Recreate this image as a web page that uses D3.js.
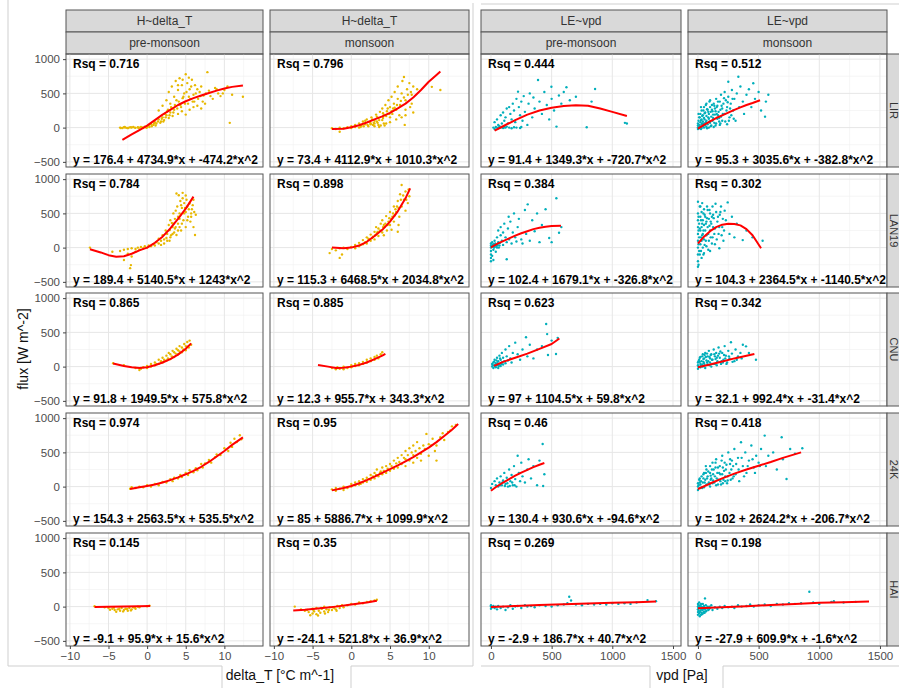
<!DOCTYPE html>
<html>
<head>
<meta charset="utf-8">
<script src="https://cdn.jsdelivr.net/npm/d3@7"></script>
<style>
  body { margin: 0; background: #fff; }
  svg { display: block; font-family: "Liberation Sans", Arial, sans-serif; }
</style>
</head>
<body>
<div id="chart"></div>
<script>
// facet labels
const sites = ["LIR", "LAN19", "CNU", "24K", "HAI"];
const seasons = ["pre-monsoon", "monsoon"];
const models = ["H~delta_T", "LE~vpd"];

// tick values
const yTicks = [-500, 0, 500, 1000];
const yMinor = [-250, 250, 750];
const xTicksH = [-10, -5, 0, 5, 10];
const xMinorH = [-7.5, -2.5, 2.5, 7.5, 12.5];
const xTicksLE = [0, 500, 1000, 1500];
const xMinorLE = [250, 750, 1250];

// R squared per site
const hPreRsq = [0.716, 0.784, 0.865, 0.974, 0.145];
const hMonRsq = [0.796, 0.898, 0.885, 0.95, 0.35];
const lePreRsq = [0.444, 0.384, 0.623, 0.46, 0.269];
const leMonRsq = [0.512, 0.302, 0.342, 0.418, 0.198];

// fitted equations per site
const hPreEq = ["y = 176.4 + 4734.9*x + -474.2*x^2", "y = 189.4 + 5140.5*x + 1243*x^2", "y = 91.8 + 1949.5*x + 575.8*x^2", "y = 154.3 + 2563.5*x + 535.5*x^2", "y = -9.1 + 95.9*x + 15.6*x^2"];
const hMonEq = ["y = 73.4 + 4112.9*x + 1010.3*x^2", "y = 115.3 + 6468.5*x + 2034.8*x^2", "y = 12.3 + 955.7*x + 343.3*x^2", "y = 85 + 5886.7*x + 1099.9*x^2", "y = -24.1 + 521.8*x + 36.9*x^2"];
const lePreEq = ["y = 91.4 + 1349.3*x + -720.7*x^2", "y = 102.4 + 1679.1*x + -326.8*x^2", "y = 97 + 1104.5*x + 59.8*x^2", "y = 130.4 + 930.6*x + -94.6*x^2", "y = -2.9 + 186.7*x + 40.7*x^2"];
const leMonEq = ["y = 95.3 + 3035.6*x + -382.8*x^2", "y = 104.3 + 2364.5*x + -1140.5*x^2", "y = 32.1 + 992.4*x + -31.4*x^2", "y = 102 + 2624.2*x + -206.7*x^2", "y = -27.9 + 609.9*x + -1.6*x^2"];

// H ~ delta_T, pre-monsoon: observed points [delta_T, flux] per site
const hPrePts = [
  [[-3.5,0],[-3.2,-5],[-3,5],[-2.8,0],[-2.5,-8],[-2.3,3],[-2,0],[-1.8,8],[-1.5,-3],[-1.2,5],[-1,0],[-0.8,10],[-0.5,-5],[-0.3,15],[0,5],
   [0.2,30],[0.5,50],[0.8,40],[1,80],[1.2,60],[1.5,120],[1.8,90],[2,150],[2.2,110],[2.5,180],[2.8,140],[3,220],[3.3,170],[3.5,260],[4,200],[4.5,240],[5,190],[5.5,260],[6,300],[6.5,320],[7,280],[7.5,350],
   [1.5,250],[2,320],[2.5,400],[2.8,520],[3,350],[3.2,600],[3.5,450],[3.7,680],[4,550],[4.2,720],[4.5,620],[4.8,500],[5,780],[5.2,650],[5.5,560],[5.8,700],[6,480],[6.2,620],[6.5,560],[6.8,520],[7,600],[7.3,470],[7.8,810],[8,540],[8.5,420],[8.8,580],[9.2,500],[9.5,460],[10,550],[10.4,600],[10.7,70],[11,480],[12.4,450],
   [3.8,400],[4.3,330],[4.6,430],[5.3,350],[5.6,420],[6.1,380],[3.2,280],[2.6,240],[4,620],[4.6,700],[5.4,730],
   [0.3,10],[0.6,20],[0.9,60],[1.1,30],[1.4,90],[1.7,70],[1.9,130],[2.1,90],[2.3,200],[2.4,150],[2.7,260],[2.9,180],[3.1,300],[3.4,220],[3.6,330],[3.9,280],[4.1,380],[4.4,300],[4.7,450],[4.9,350],[5.1,520],[5.4,450],[5.7,600],[5.9,380],[6.3,500],[6.6,420],[6.9,460],[7.2,380],[7.6,500],[8.2,460],[9,560],[9.8,500],
   [-3.4,-5],[-2.9,8],[-2.6,-3],[-2.1,6],[-1.6,0],[-1.1,-6],[-0.6,4],[-0.1,-2]],
  [[-7.4,0],[-4.5,-60],[-3.5,-50],[-3,-30],[-3,-180],[-2.5,-20],[-2.5,-90],[-2.2,-300],[-2.1,-255],[-2,-10],[-2,-130],[-1.5,-20],[-1.5,-60],[-1.2,0],[-1,-30],[-0.8,10],[-0.5,-10],[-0.3,20],[0,0],[0.2,30],[0.5,20],[0.8,50],[1,30],[1.2,80],[1.5,60],[1.5,130],[1.8,100],[2,180],[2.2,120],[2.4,250],[2.6,200],[2.8,330],[2.9,255],[3,400],[3.1,180],[3.3,300],[3.4,500],[3.5,220],[3.6,420],[3.8,790],[3.8,185],[3.9,600],[4,350],[4.1,765],[4.2,500],[4.3,680],[4.4,250],[4.5,580],[4.6,720],[4.7,400],[4.8,650],[5,300],[5,520],[5.1,700],[5.3,450],[5.5,645],[5.6,380],[5.8,560],[6,300],[6,700],[6.2,185],[6.3,480],
   [3.2,360],[3.6,280],[4,450],[4.4,620],[4.9,580],[5.2,600],[5.7,500],[4.2,300],[2.5,140],[3.7,540],
   [3,150],[3.4,350],[3.7,300],[4,250],[4.2,420],[4.5,350],[4.8,500],[5.2,400],[5.4,560],[5.7,450],[5.9,620],[6.1,520],[4.6,800],[5,760],[3.3,200],[2.9,100],[2.6,100],[2.2,60],[1.8,40]],
  [[-4.4,50],[-3,20],[-1.5,-20],[-1,-50],[-0.8,-30],[-0.5,-10],[0,-20],[0,10],[0.5,0],[0.5,40],[1,20],[1,60],[1.5,40],[1.5,100],[2,60],[2,130],[2.5,90],[2.5,160],[2.8,200],[3,110],[3,180],[3.3,230],[3.5,140],[3.5,210],[3.8,260],[4,180],[4,240],[4.2,300],[4.5,210],[4.5,280],[4.8,330],[5,240],[5,300],[5.2,360],[5.4,280],[5.5,380],[5.7,320],
   [1.2,40],[1.8,80],[2.2,100],[2.7,120],[3.2,150],[3.7,190],[4.2,220],[4.7,250],[5.2,290]],
  [[-2.2,-30],[-2,-10],[-1.5,-20],[-1,0],[-0.5,-10],[0,20],[0.5,0],[1,40],[1.5,20],[2,70],[2.5,60],[3,110],[3.3,80],[3.5,130],[4,120],[4.3,170],[4.5,140],[5,200],[5.3,170],[5.5,240],[6,210],[6.3,270],[6.5,240],[7,330],[7.2,280],[7.5,340],[8,390],[8.3,350],[8.8,430],[9,470],[9.5,460],[10,560],[10.5,520],[10.8,640],[11,580],[11.3,700],[11.6,650],[12,750],[12.2,690]],
  [[-6.8,5],[-5.5,-10],[-5,-20],[-4.5,-30],[-4.2,-50],[-4,-75],[-3.8,-40],[-3.5,-60],[-3.3,-20],[-3,-50],[-2.8,-30],[-2.5,-60],[-2.3,-20],[-2,-40],[-1.8,-10],[-1.5,-30],[-1.2,0],[-1,-10],[0,5],[0.3,15],
   [-4.8,-45],[-4.3,-15],[-3.6,-30],[-3.1,-70],[-2.6,-35],[-2.1,-55],[-1.6,-15]]
];

// H ~ delta_T, monsoon
const hMonPts = [
  [[-2.5,-10],[-2,-20],[-1.5,-60],[-1.5,0],[-1,-10],[-0.5,5],[0,-5],[0,20],[0.5,10],[0.5,40],[1,0],[1,60],[1.3,30],[1.5,90],[1.8,50],[2,120],[2.2,20],[2.4,80],[2.6,150],[2.8,40],[3,100],[3.2,190],[3.4,70],[3.5,140],[3.7,230],[3.8,30],[4,110],[4,280],[4.2,180],[4.4,330],[4.5,60],[4.6,240],[4.8,400],[5,150],[5,300],[5.2,450],[5.3,200],[5.5,350],[5.6,520],[5.8,260],[6,420],[6,600],[6.2,180],[6.3,330],[6.5,500],[6.6,680],[6.8,740],[6.9,40],[7,400],[7,260],[7.2,560],[7.5,650],[7.6,300],[7.8,480],[8,600],[8,220],[8.5,560],[10.4,595],[11.5,550],
   [2.5,50],[3,60],[3.5,40],[4.2,60],[1.8,100],[2.7,120],[3.3,160],[4.1,210],[4.7,280],[5.4,280],
   [1.2,10],[1.6,20],[2.1,40],[2.5,60],[2.9,70],[3.3,90],[3.6,110],[4.1,140],[4.5,170],[4.9,200],[5.2,240],[5.6,290],[5.9,330],[6.4,390],[6.8,440],[7.3,480],[7.7,520],[3,20],[3.6,10],[4.3,30],[5,80],[5.8,120],[6.5,150],[7,180],[7.8,350]],
  [[-2.8,-80],[-2.5,-20],[-2,-40],[-1.5,-150],[-1.5,-10],[-1.2,-100],[-1,0],[-0.5,-20],[0,10],[0.5,-10],[0.5,40],[1,20],[1,70],[1.5,50],[1.5,110],[2,60],[2,150],[2.5,100],[2.5,190],[3,120],[3,230],[3.2,300],[3.5,170],[3.5,280],[3.8,350],[4,220],[4,400],[4.3,300],[4.5,460],[4.6,250],[4.8,380],[5,520],[5,330],[5.3,450],[5.5,600],[5.5,380],[5.8,520],[6,232],[6,680],[6.2,450],[6.3,780],[6.5,600],[6.5,915],[6.8,700],[7,540],[7,820],[7.3,650],[7.5,750],
   [2.2,130],[2.8,160],[3.3,210],[4.2,330],[4.9,430],[5.7,560],
   [1.2,40],[1.8,80],[2.3,120],[2.7,140],[3.1,180],[3.4,230],[3.7,250],[4.1,300],[4.4,350],[4.7,330],[5.1,420],[5.4,500],[5.6,470],[5.9,600],[6.1,580],[6.4,700],[6.7,760],[7.1,700],[7.4,850],[4.2,180],[5.2,260],[6.1,330]],
  [[-2.5,-20],[-2,-40],[-1.8,-10],[-1.5,-30],[-1,-40],[-1,0],[-0.5,-20],[0,-10],[0,20],[0.5,10],[0.5,40],[1,20],[1,50],[1.5,40],[1.5,70],[2,60],[2,100],[2.5,80],[2.5,120],[3,100],[3,140],[3.3,160],[3.5,120],[3.8,180],[4,210]],
  [[-2.5,-40],[-2,-60],[-2,-20],[-1.5,-30],[-1,-50],[-1,0],[-0.5,-20],[0,0],[0,40],[0.5,20],[0.5,60],[1,30],[1,80],[1.5,60],[1.5,110],[2,70],[2,130],[2.5,100],[2.5,170],[3,120],[3,200],[3.3,250],[3.5,150],[3.8,220],[4,180],[4,280],[4.5,200],[4.5,300],[5,230],[5,330],[5.5,260],[5.5,380],[6,280],[6,420],[6.5,330],[6.5,460],[7,300],[7,400],[7,520],[7.5,380],[7.5,560],[8,350],[8,460],[8,600],[8.5,420],[8.5,650],[9,480],[9,380],[9.5,550],[9.7,770],[10,450],[10,620],[10.5,700],[11,380],[11,600],[11.5,720],[12,680],[12.5,800],[13,880],[13.5,900],
   [1.2,40],[1.8,90],[2.3,110],[2.8,150],[3.2,170],[3.7,200],[4.2,230],[4.7,260],[5.2,300],[5.8,340],[6.2,360],[6.8,420],[7.3,460],[7.8,500],[8.3,520],[8.8,560],[9.3,600],[10.3,600],[10.8,520],[11.8,780],[12.8,820]],
  [[-7.3,0],[-6.5,-40],[-6,-60],[-5.5,-80],[-5.3,-125],[-5,-100],[-5,-30],[-4.8,-70],[-4.5,-110],[-4.5,-20],[-4.2,-60],[-4,-90],[-3.8,-30],[-3.5,-70],[-3.5,0],[-3.2,-40],[-3,-80],[-2.8,-10],[-2.5,-50],[-2.2,-20],[-2,-40],[-1.8,10],[-1.5,-20],[-1.2,20],[-1,-10],[-0.5,20],[0,40],[0.5,30],[1,60],[1.5,50],[2,70],[2.5,80],[3,90],[3.3,100],
   [-5.7,-50],[-4.9,-50],[-4.3,-130],[-3.9,-20],[-3.4,-100],[-2.9,-50],[-2.4,-10],[-1.9,-60]]
];

// LE ~ vpd, pre-monsoon: [vpd, flux]
const lePrePts = [
  [[20,0],[30,-20],[40,10],[50,0],[60,-10],[70,20],[80,0],[90,10],[100,-5],[110,5],[120,0],[130,15],[150,0],[170,-10],[190,5],[210,0],[240,-5],[250,10],
   [30,80],[50,120],[60,40],[80,180],[90,60],[100,220],[110,100],[120,150],[130,280],[140,60],[150,300],[160,200],[170,120],[180,350],[190,250],[200,80],[210,420],[223,525],[230,300],[240,180],[250,380],[260,100],[270,460],[280,230],[300,40],[310,350],[320,500],[340,150],[350,440],[360,280],[388,695],[400,380],[420,200],[440,520],[460,330],[480,120],[498,597],[500,420],[520,250],[540,15],[560,470],[580,350],[600,520],[622,590],[650,400],[700,450],[789,5],[829,380],[858,565],[1104,70],[1120,60]],
  [[0,-200],[0,-150],[0,-100],[0,-50],[0,0],[0,30],[0,60],[10,-120],[10,20],[10,80],[20,-30],[20,50],[20,-180],[30,10],[30,100],[40,-60],[40,40],[50,150],[50,0],[60,80],[60,250],[70,30],[80,180],[80,300],[90,100],[100,220],[100,40],[110,350],[120,150],[130,-170],[130,80],[140,280],[146,450],[150,120],[160,380],[170,60],[180,220],[190,500],[200,150],[210,90],[220,300],[230,420],[250,120],[260,60],[280,550],[290,200],[303,632],[320,100],[340,400],[360,240],[380,500],[400,80],[420,330],[450,560],[480,140],[500,80],[539,720],[561,218],[580,300],
   [5,10],[15,40],[25,0],[35,60],[45,20],[55,40],[65,0],[75,70]],
  [[10,0],[10,40],[20,-20],[20,60],[30,20],[30,100],[40,-10],[40,50],[50,130],[50,20],[60,80],[60,-20],[70,40],[70,160],[80,10],[80,100],[90,60],[90,200],[100,30],[100,130],[110,80],[120,250],[120,50],[130,150],[140,90],[150,300],[160,120],[170,60],[180,200],[200,350],[220,180],[240,100],[260,250],[289,428],[300,150],[320,320],[350,120],[380,250],[420,300],[455,622],[463,475],[470,170],[500,380],[536,184],[550,420],
   [15,20],[25,70],[35,0],[45,90],[55,50],[65,10],[75,120],[85,40]],
  [[0,-20],[10,40],[30,80],[40,20],[50,120],[60,0],[70,60],[80,150],[90,20],[100,90],[110,200],[120,40],[130,130],[140,0],[150,250],[160,80],[170,170],[180,20],[190,300],[200,110],[210,0],[220,451],[230,200],[240,80],[250,350],[260,150],[280,60],[300,250],[310,400],[330,120],[350,300],[380,20],[400,380],[426,622],[430,10],[440,180],
   [75,20],[95,60],[115,10],[135,50],[155,10],[175,60],[195,20]],
  [[0,-30],[0,0],[0,20],[10,-10],[20,10],[30,-20],[40,0],[50,-40],[60,10],[80,-20],[100,0],[120,-50],[140,-10],[160,20],[180,-30],[200,0],[220,10],[250,-20],[280,20],[300,0],[330,10],[360,-10],[400,20],[450,10],[500,0],[550,20],[600,30],[630,50],[645,145],[660,90],[700,30],[750,20],[800,40],[850,30],[900,40],[950,30],[1000,50],[1050,40],[1100,50],[1150,40],[1200,60],[1290,95],[1360,80]]
];

// LE ~ vpd, monsoon
const leMonPts = [
  [[0,-20],[0,0],[0,30],[0,60],[5,100],[10,-10],[10,40],[10,150],[20,10],[20,80],[20,200],[30,-5],[30,50],[30,120],[30,250],[40,20],[40,90],[40,180],[50,0],[50,60],[50,140],[50,300],[60,30],[60,220],[70,10],[70,100],[70,170],[70,350],[80,50],[80,260],[90,0],[90,130],[90,200],[100,70],[100,300],[100,400],[110,30],[110,160],[120,240],[120,100],[130,350],[130,10],[140,190],[140,280],[150,60],[150,420],[160,130],[160,320],[170,230],[180,40],[180,380],[190,160],[190,480],[200,280],[200,100],[210,350],[220,200],[220,520],[230,400],[240,50],[240,300],[250,670],[250,450],[260,150],[270,350],[280,550],[290,250],[300,420],[310,100],[320,500],[333,743],[340,300],[350,600],[370,380],[380,200],[400,480],[420,560],[440,300],[456,647],[470,420],[500,520],[520,250],[553,160],[560,380],[580,480],
   [15,20],[25,110],[35,170],[45,40],[55,210],[65,80],[75,270],[85,150],[95,90],[105,230],[115,330],[125,190],[135,70],[145,240],[155,300],[165,180],[175,90],[185,260],
   [5,10],[5,200],[15,150],[25,-20],[25,300],[35,60],[45,250],[55,120],[65,330],[75,-10],[85,230],[95,380],[105,20],[115,260],[125,140],[135,320],[145,30],[155,200],[165,380],[175,140],[185,60],[195,320],[205,200],[215,430],[225,90],[235,250],[245,370],[255,100],[265,280],[275,180],[285,420],[295,130]],
  [[0,-280],[0,-200],[0,-100],[0,0],[0,100],[0,200],[0,300],[0,400],[0,500],[0,670],[10,-50],[10,150],[10,350],[20,50],[20,250],[20,450],[20,600],[30,-150],[30,100],[30,300],[30,520],[40,0],[40,200],[40,400],[50,-80],[50,120],[50,330],[50,560],[60,250],[60,450],[70,20],[70,180],[70,380],[80,300],[80,550],[90,100],[90,420],[100,-50],[100,250],[100,500],[110,350],[120,150],[120,600],[130,430],[140,50],[140,280],[150,520],[160,380],[170,200],[176,-10],[180,480],[190,600],[200,300],[210,100],[220,540],[230,400],[245,660],[260,200],[280,450],[300,150],[320,350],[369,110],[400,250],[450,150],[533,100],
   [5,50],[15,280],[25,400],[35,180],[45,500],[55,40],[65,350],[75,600],[85,200],[95,320],[105,150],[115,450],[125,300],
   [5,-250],[5,250],[5,450],[15,-100],[15,600],[25,150],[25,-50],[35,350],[35,650],[45,250],[45,-100],[55,480],[65,100],[75,430],[85,-30],[95,550],[105,380],[115,60],[125,480],[135,200],[145,640],[155,120],[165,450],[175,300],[185,520],[195,180],[205,420],[215,250]],
  [[0,-30],[0,20],[0,60],[10,100],[20,-10],[20,40],[20,140],[30,80],[40,0],[40,180],[50,50],[50,120],[60,-20],[60,200],[70,90],[80,30],[80,150],[90,230],[100,60],[100,120],[110,0],[110,180],[120,100],[130,250],[140,40],[140,150],[150,200],[160,80],[170,280],[180,130],[190,40],[200,200],[210,100],[220,300],[230,160],[240,60],[250,230],[260,120],[272,355],[280,190],[300,80],[310,250],[330,150],[350,200],[370,320],[396,296],[420,200],[478,100],
   [15,70],[35,30],[45,110],[65,140],[85,80],[105,170],[125,40],[145,110],[165,160],[185,220],[205,60],[225,120],
   [5,0],[5,80],[15,130],[25,20],[35,150],[45,70],[55,20],[55,170],[75,60],[75,190],[95,20],[95,140],[115,100],[135,180],[155,20],[155,130],[175,190],[195,80],[215,170],[235,40],[255,150],[285,70],[320,100],[360,120]],
  [[0,-50],[0,0],[0,50],[10,100],[20,-20],[20,30],[30,150],[40,60],[50,-10],[50,200],[60,100],[70,30],[70,250],[80,150],[90,60],[100,0],[100,200],[100,300],[110,120],[120,50],[120,350],[130,250],[140,150],[150,20],[150,400],[160,200],[170,100],[180,300],[190,30],[200,450],[200,180],[210,100],[220,350],[230,250],[240,50],[250,500],[260,200],[270,100],[280,380],[290,300],[300,550],[310,180],[330,420],[340,80],[355,647],[370,300],[390,500],[400,200],[420,380],[440,600],[460,280],[480,450],[500,350],[520,550],[550,745],[560,300],[580,450],[620,500],[650,250],[690,720],[700,400],[730,111],[760,550],[800,480],[860,560],
   [15,60],[35,-10],[45,120],[65,200],[85,40],[105,160],[125,90],[145,280],[165,30],[185,180],[205,280],[225,80],[245,150],[265,330],[285,120],
   [5,20],[15,120],[25,80],[35,-20],[45,180],[55,60],[65,300],[75,120],[85,220],[95,30],[105,100],[115,250],[125,180],[135,60],[145,350],[155,120],[165,280],[175,200],[185,80],[195,380],[205,50],[215,230],[225,150],[235,320],[245,90],[265,400],[275,250],[295,150],[315,330],[335,250],[360,420],[380,150],[410,300],[450,400],[470,200],[510,300]],
  [[0,-120],[0,-80],[0,-40],[0,0],[0,40],[10,-100],[10,-20],[10,60],[20,-60],[20,20],[30,-90],[30,0],[40,-40],[40,40],[50,-70],[50,10],[58,120],[60,-30],[70,-60],[80,0],[90,-40],[100,-20],[110,20],[120,-50],[140,-10],[160,-30],[180,0],[200,-20],[220,10],[250,-10],[280,0],[300,-20],[330,20],[360,0],[400,10],[430,30],[460,0],[500,20],[550,30],[600,10],[650,40],[700,30],[750,50],[800,40],[850,50],[918,218],[950,60],[1000,40],[1100,70],[1120,80],[1200,60],[1300,70],
   [5,-60],[15,-140],[25,-30],[35,-110],[45,-10],[55,-90],[65,20],
   [5,-20],[5,20],[15,-80],[15,0],[25,-120],[25,40],[35,-50],[45,-90],[55,-30],[65,-70],[75,-20],[85,-50],[95,0]]
];

// fitted curves
const hPreFit = [
  [[-3.2,-180],[-2,-100],[-1,-35],[0,30],[1,110],[2,190],[3,260],[4,330],[5,385],[6,430],[7,470],[8,505],[9,540],[10,570],[11,595],[12.4,615]],
  [[-7.4,-25],[-6,-70],[-5,-110],[-4,-133],[-3,-125],[-2,-90],[-1,-40],[0,0],[1,70],[2,160],[3,280],[4,420],[5,570],[6,745]],
  [[-4.4,45],[-3,10],[-2,-10],[-1,-20],[0,-10],[1,20],[2,60],[3,110],[4,175],[5,260],[5.7,340]],
  [[-2.2,-35],[-1,-10],[0,10],[1,30],[2,60],[3,95],[4,135],[5,180],[6,230],[7,290],[8,360],[9,440],[10,520],[11,610],[12.4,720]],
  [[-6.8,-5],[-5,-3],[-3,0],[-1,5],[0.4,10]]
];
const hMonFit = [
  [[-2.5,-20],[-1,-15],[0,5],[1,35],[2,75],[3,120],[4,165],[5,215],[6,280],[7,350],[8,440],[9,550],[10,670],[11,770],[11.5,820]],
  [[-2.5,0],[-1,-10],[0,0],[1,30],[2,85],[3,170],[4,260],[5,380],[6,530],[7,720],[7.6,865]],
  [[-4.3,25],[-3,0],[-2,-20],[-1,-15],[0,0],[1,25],[2,60],[3,110],[4,160],[4.4,185]],
  [[-2.5,-55],[-1,-20],[0,10],[1,50],[2,95],[3,145],[4,200],[5,255],[6,310],[7,370],[8,430],[9,500],[10,570],[11,650],[12,740],[13,830],[13.8,915]],
  [[-7.5,-55],[-6,-45],[-4,-25],[-2,0],[0,30],[2,60],[3.3,85]]
];
const lePreFit = [
  [[30,-45],[100,20],[200,110],[300,190],[400,250],[500,290],[600,315],[700,325],[800,320],[900,280],[1000,230],[1120,170]],
  [[0,5],[50,55],[100,95],[150,135],[200,175],[250,210],[300,240],[350,270],[400,290],[450,305],[500,315],[577,320]],
  [[25,10],[100,70],[200,130],[300,190],[400,260],[500,330],[564,410]],
  [[0,-60],[50,5],[100,60],[150,110],[200,160],[250,205],[300,245],[350,285],[400,320],[440,345]],
  [[0,-5],[200,10],[400,25],[600,35],[800,45],[1000,55],[1200,65],[1360,75]]
];
const leMonFit = [
  [[0,-15],[50,40],[100,90],[150,140],[200,180],[250,220],[300,260],[350,295],[400,330],[450,360],[512,400]],
  [[0,60],[50,160],[100,240],[150,300],[200,335],[250,350],[300,345],[350,325],[400,270],[450,180],[520,-10]],
  [[0,-10],[100,30],[200,75],[300,120],[400,160],[465,185]],
  [[0,-35],[100,45],[200,120],[300,190],[400,250],[500,305],[600,360],[700,420],[850,500]],
  [[0,-25],[200,-10],[400,5],[600,25],[800,40],[1000,55],[1200,65],[1410,75]]
];

// ---------- layout ----------
const W = 899, H = 688;
const rowTop = [54, 174, 293, 413, 533];
const panelH = 113;
const stripH = 22;
const yDomain = [-575, 1075];

const cols = [
  { model: 0, season: 0, L: 66,  w: 197, xd: [-10.5, 15.0], pts: hPrePts,  fit: hPreFit,  rsq: hPreRsq,  eq: hPreEq,  col: "#E7B800", ticks: xTicksH,  minor: xMinorH,  yAxis: true },
  { model: 0, season: 1, L: 270, w: 199, xd: [-10.5, 15.2], pts: hMonPts,  fit: hMonFit,  rsq: hMonRsq,  eq: hMonEq,  col: "#E7B800", ticks: xTicksH,  minor: xMinorH },
  { model: 1, season: 0, L: 481, w: 200, xd: [-82, 1566],   pts: lePrePts, fit: lePreFit, rsq: lePreRsq, eq: lePreEq, col: "#00AFBB", ticks: xTicksLE, minor: xMinorLE },
  { model: 1, season: 1, L: 688, w: 199, xd: [-82, 1558],   pts: leMonPts, fit: leMonFit, rsq: leMonRsq, eq: leMonEq, col: "#00AFBB", ticks: xTicksLE, minor: xMinorLE, rowStrip: true }
];

const svg = d3.select("#chart").append("svg").attr("width", W).attr("height", H);
svg.append("rect").attr("width", W).attr("height", H).attr("fill", "#fff");

// light outlines of the two stitched figures
svg.append("path")
  .attr("d", "M8,0V666H222V688M351,688V666H473V3M481,4H899M481,666H650V688M723,688V666H899")
  .attr("fill", "none").attr("stroke", "#cfcfcf").attr("stroke-width", 1);

const defs = svg.append("defs");
const line = d3.line();
const fmt = d3.format("d");

cols.forEach((c, ci) => {
  const x = d3.scaleLinear().domain(c.xd).range([c.L, c.L + c.w]);

  // column strips
  [[models[c.model], 10], [seasons[c.season], 32]].forEach(([txt, y0]) => {
    svg.append("rect").attr("x", c.L).attr("y", y0).attr("width", c.w).attr("height", stripH)
      .attr("fill", "#d9d9d9").attr("stroke", "#555").attr("stroke-width", 1);
    svg.append("text").attr("x", c.L + c.w / 2).attr("y", y0 + stripH / 2).attr("dy", "0.35em")
      .attr("text-anchor", "middle").attr("fill", "#333").style("font-size", "12px").text(txt);
  });

  sites.forEach((site, ri) => {
    const T = rowTop[ri];
    const y = d3.scaleLinear().domain(yDomain).range([T + panelH, T]);
    const g = svg.append("g");
    const clipId = `clip-${ci}-${ri}`;
    defs.append("clipPath").attr("id", clipId)
      .append("rect").attr("x", c.L).attr("y", T).attr("width", c.w).attr("height", panelH);
    const inner = g.append("g").attr("clip-path", `url(#${clipId})`);

    // grid
    yMinor.forEach(v => inner.append("line").attr("x1", c.L).attr("x2", c.L + c.w).attr("y1", y(v)).attr("y2", y(v))
      .attr("stroke", "#f0f0f0").attr("stroke-width", 0.6));
    c.minor.forEach(v => inner.append("line").attr("y1", T).attr("y2", T + panelH).attr("x1", x(v)).attr("x2", x(v))
      .attr("stroke", "#f0f0f0").attr("stroke-width", 0.6));
    yTicks.forEach(v => inner.append("line").attr("x1", c.L).attr("x2", c.L + c.w).attr("y1", y(v)).attr("y2", y(v))
      .attr("stroke", "#e6e6e6").attr("stroke-width", 1));
    c.ticks.forEach(v => inner.append("line").attr("y1", T).attr("y2", T + panelH).attr("x1", x(v)).attr("x2", x(v))
      .attr("stroke", "#e6e6e6").attr("stroke-width", 1));

    // points
    inner.selectAll("circle.pt").data(c.pts[ri]).join("circle")
      .attr("class", "pt")
      .attr("cx", d => x(d[0])).attr("cy", d => y(d[1]))
      .attr("r", 1.2).attr("fill", c.col);

    // fitted line
    inner.append("path").datum(c.fit[ri])
      .attr("d", line.x(d => x(d[0])).y(d => y(d[1])))
      .attr("fill", "none").attr("stroke", "#ff0000").attr("stroke-width", 2)
      .attr("stroke-linejoin", "round");

    // labels
    inner.append("text").attr("x", c.L + 7).attr("y", T + 14)
      .style("font-size", "12px").style("font-weight", "700").attr("fill", "#000")
      .text("Rsq = " + c.rsq[ri]);
    inner.append("text").attr("x", c.L + 7).attr("y", T + panelH - 3)
      .style("font-size", "12px").style("font-weight", "700").attr("fill", "#000")
      .text(c.eq[ri]);

    // border
    g.append("rect").attr("x", c.L).attr("y", T).attr("width", c.w).attr("height", panelH)
      .attr("fill", "none").attr("stroke", "#555").attr("stroke-width", 1);

    // y axis
    if (c.yAxis) {
      const ax = svg.append("g").attr("transform", `translate(${c.L},0)`)
        .call(d3.axisLeft(y).tickValues(yTicks).tickFormat(fmt).tickSize(3).tickPadding(3));
      ax.select(".domain").remove();
      ax.selectAll("line").attr("stroke", "#444");
      ax.selectAll("text").attr("fill", "#4d4d4d").style("font-size", "11.5px")
        .style("font-family", "'Liberation Sans', Arial, sans-serif");
    }

    // row strip on the right (clipped by the page edge as in the source)
    if (c.rowStrip) {
      svg.append("rect").attr("x", c.L + c.w).attr("y", T).attr("width", 22).attr("height", panelH)
        .attr("fill", "#d9d9d9").attr("stroke", "#555").attr("stroke-width", 1);
      svg.append("text").attr("transform", `translate(${c.L + c.w + 3},${T + panelH / 2}) rotate(90)`)
        .attr("text-anchor", "middle").attr("fill", "#333").style("font-size", "11px").text(site);
    }
  });

  // x axis below last row
  const ax = svg.append("g").attr("transform", `translate(0,${rowTop[4] + panelH})`)
    .call(d3.axisBottom(x).tickValues(c.ticks).tickFormat(fmt).tickSize(3).tickPadding(3));
  ax.select(".domain").remove();
  ax.selectAll("line").attr("stroke", "#444");
  ax.selectAll("text").attr("fill", "#4d4d4d").style("font-size", "11.5px")
    .style("font-family", "'Liberation Sans', Arial, sans-serif");
});

// axis titles
svg.append("text").attr("transform", "translate(28,349) rotate(-90)")
  .attr("text-anchor", "middle").style("font-size", "14px").attr("fill", "#111").text("flux [W m^-2]");
svg.append("text").attr("x", 280).attr("y", 680)
  .attr("text-anchor", "middle").style("font-size", "14px").attr("fill", "#111").text("delta_T [°C m^-1]");
svg.append("text").attr("x", 682).attr("y", 680)
  .attr("text-anchor", "middle").style("font-size", "14px").attr("fill", "#111").text("vpd [Pa]");
</script>
</body>
</html>
